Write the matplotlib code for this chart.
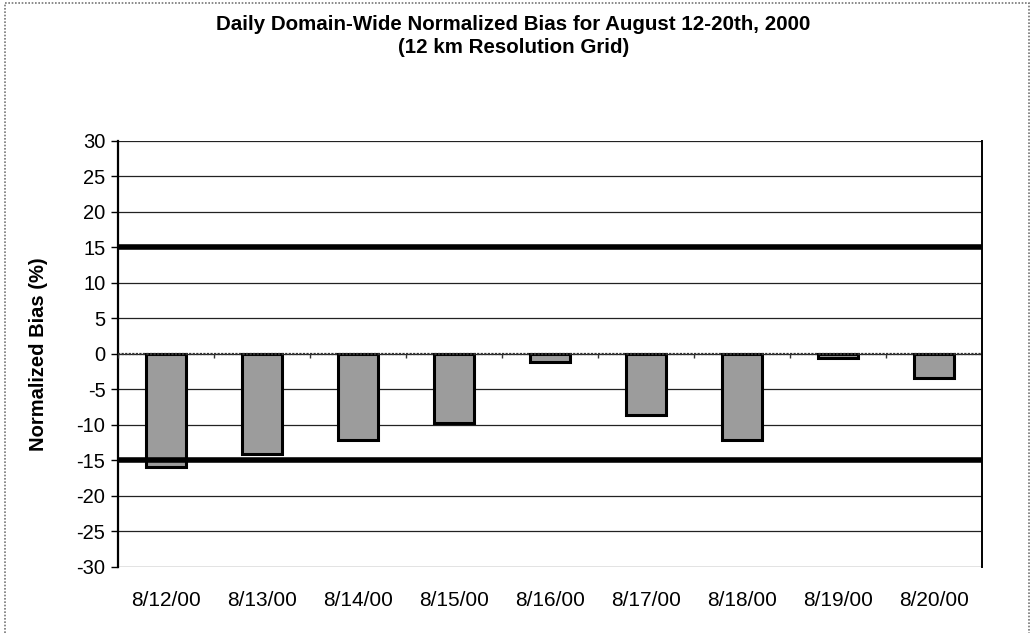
import numpy as np
import matplotlib
matplotlib.use("Agg")
import matplotlib.pyplot as plt
from matplotlib.patches import Rectangle

# data
dates = ["8/12/00", "8/13/00", "8/14/00", "8/15/00", "8/16/00",
         "8/17/00", "8/18/00", "8/19/00", "8/20/00"]
bias = [-15.9, -14.1, -12.1, -9.7, -1.1, -8.6, -12.1, -0.6, -3.4]
limits = [15, -15]
yticks = list(range(-30, 31, 5))

plt.rcParams['font.family'] = ['Liberation Sans', 'DejaVu Sans']
plt.rcParams['axes.unicode_minus'] = False

fig = plt.figure(figsize=(10.33, 6.33), dpi=100)
ax = fig.add_axes([0.1142, 0.1043, 0.8364, 0.6730])

x = np.arange(len(dates))

# horizontal grid
for v in yticks:
    ax.axhline(v, color='#222222', linewidth=0.9, zorder=1)
# +/-15 criteria lines
for v in limits:
    ax.axhline(v, color='black', linewidth=4.0, zorder=4)

ax.bar(x, bias, width=0.42, color='#9c9c9c', edgecolor='black',
       linewidth=2.2, zorder=3)

# category axis crosses at zero, ticks between categories
ax.axhline(0, color='#333333', linewidth=1.6, linestyle=(0, (1, 0.6)), zorder=5)
ax.vlines(np.arange(len(dates) + 1) - 0.5, -0.6, 0, color='#333333',
          linewidth=1.0, zorder=5)

ax.set_xlim(-0.5, len(dates) - 0.5)
ax.set_ylim(-30, 30)
ax.set_yticks(yticks)
ax.set_xticks(x)
ax.set_xticklabels(dates)
ax.tick_params(axis='x', length=0, pad=17, labelsize=15)
ax.tick_params(axis='y', length=5, width=1, direction='out', labelsize=14.5, pad=4)

for side in ['top', 'bottom']:
    ax.spines[side].set_visible(False)
ax.spines['left'].set_linewidth(1.6)
ax.spines['right'].set_linewidth(1.4)

ax.set_ylabel('Normalized Bias (%)', fontsize=14.5, fontweight='bold')
ax.yaxis.set_label_coords(-0.081, 0.5)

fig.text(0.497, 0.962, 'Daily Domain-Wide Normalized Bias for August 12-20th, 2000',
         ha='center', va='center', fontsize=14.8, fontweight='bold')
fig.text(0.497, 0.925, '(12 km Resolution Grid)',
         ha='center', va='center', fontsize=14.8, fontweight='bold')

# chart area frame
fig.patches.append(Rectangle((0.005, -0.01), 0.991, 1.005, transform=fig.transFigure,
                             fill=False, edgecolor='#777777', linewidth=1.2,
                             linestyle=(0, (1, 1))))

fig.savefig('out.png', dpi=100)
